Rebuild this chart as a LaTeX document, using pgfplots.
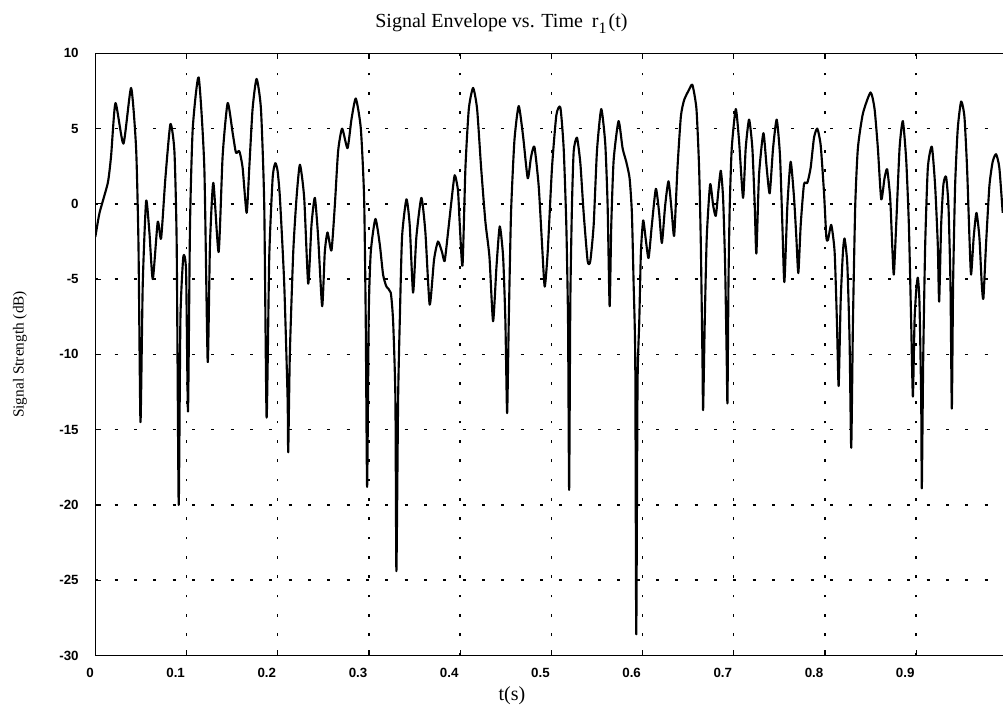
\documentclass[border=0pt]{standalone}
\usepackage{fontspec}
\setmainfont{Liberation Serif}
\setsansfont{Liberation Sans}
\usepackage{pgfplots}
\pgfplotsset{compat=1.18}
\pgfplotstableread{
x y
0.0000 -2.2
0.0046 -0.6
0.0137 1.4
0.0173 3.2
0.0221 6.7
0.0308 4.0
0.0392 7.7
0.0447 3.7
0.0473 -2.7
0.0495 -14.5
0.0520 -5.3
0.0557 0.2
0.0593 -1.9
0.0630 -5.0
0.0684 -1.2
0.0721 -2.3
0.0768 1.7
0.0823 5.3
0.0867 3.5
0.0892 -2.7
0.0914 -20.0
0.0933 -7.6
0.0965 -3.5
0.0995 -4.5
0.1016 -13.8
0.1038 -1.4
0.1068 5.0
0.1133 8.4
0.1195 2.4
0.1232 -10.5
0.1257 -2.7
0.1294 1.4
0.1352 -3.2
0.1396 3.2
0.1451 6.7
0.1506 4.7
0.1542 3.4
0.1579 3.5
0.1615 2.4
0.1659 -0.6
0.1688 2.4
0.1724 6.3
0.1768 8.3
0.1816 6.3
0.1852 -0.1
0.1878 -14.2
0.1907 -3.5
0.1944 1.7
0.1973 2.7
0.1998 2.2
0.2024 0.4
0.2071 -5.3
0.2108 -12.9
0.2115 -16.5
0.2133 -9.9
0.2170 -3.2
0.2206 0.4
0.2243 2.6
0.2290 0.4
0.2334 -5.3
0.2370 -1.4
0.2407 0.4
0.2443 -2.2
0.2487 -6.8
0.2516 -3.2
0.2546 -1.9
0.2589 -3.1
0.2626 -0.1
0.2662 3.5
0.2706 5.0
0.2765 3.7
0.2808 5.6
0.2856 7.0
0.2911 5.0
0.2947 0.4
0.2965 -7.8
0.2980 -18.8
0.2998 -7.3
0.3020 -3.2
0.3071 -1.0
0.3119 -2.7
0.3155 -4.7
0.3192 -5.5
0.3239 -5.9
0.3265 -7.8
0.3290 -12.9
0.3301 -24.4
0.3320 -12.9
0.3338 -7.8
0.3363 -2.2
0.3411 0.3
0.3447 -1.4
0.3484 -5.9
0.3520 -2.2
0.3575 0.4
0.3619 -1.9
0.3666 -6.7
0.3714 -3.7
0.3757 -2.5
0.3801 -3.2
0.3830 -3.8
0.3867 -1.9
0.3903 0.1
0.3940 1.9
0.3976 0.9
0.3996 -1.4
0.4026 -4.1
0.4058 2.4
0.4095 6.3
0.4142 7.7
0.4186 6.3
0.4230 2.4
0.4277 -1.2
0.4321 -3.5
0.4361 -7.8
0.4398 -4.2
0.4434 -1.5
0.4471 -3.5
0.4496 -7.8
0.4515 -13.9
0.4533 -7.8
0.4558 -0.6
0.4595 4.2
0.4642 6.5
0.4690 4.5
0.4741 1.7
0.4777 3.1
0.4814 3.8
0.4861 1.2
0.4898 -2.7
0.4927 -5.5
0.4960 -3.2
0.5007 2.4
0.5055 5.9
0.5099 6.4
0.5135 3.7
0.5164 -1.4
0.5183 -7.8
0.5195 -19.0
0.5208 -6.5
0.5226 -0.1
0.5245 3.5
0.5281 4.4
0.5318 2.7
0.5354 -0.6
0.5398 -3.8
0.5427 -3.8
0.5464 -1.4
0.5500 3.5
0.5547 6.3
0.5591 4.0
0.5617 -0.1
0.5639 -6.8
0.5657 -1.4
0.5683 2.9
0.5737 5.5
0.5781 3.7
0.5821 2.8
0.5858 1.7
0.5883 -0.6
0.5902 -5.3
0.5920 -10.4
0.5931 -28.6
0.5945 -12.0
0.5964 -7.8
0.5982 -3.2
0.6007 -1.1
0.6036 -2.4
0.6066 -3.6
0.6102 -1.4
0.6146 1.0
0.6182 -0.6
0.6212 -2.6
0.6248 -0.1
0.6285 1.5
0.6321 -0.6
0.6347 -2.1
0.6383 2.4
0.6420 5.8
0.6456 6.9
0.6511 7.6
0.6547 7.9
0.6591 6.3
0.6620 2.4
0.6639 -2.7
0.6657 -10.4
0.6664 -13.7
0.6682 -7.8
0.6704 -2.2
0.6741 1.3
0.6774 -0.1
0.6803 -0.8
0.6832 0.9
0.6858 2.2
0.6883 0.4
0.6905 -4.0
0.6923 -10.4
0.6931 -13.2
0.6942 -5.3
0.6956 -0.1
0.6978 3.7
0.7022 6.3
0.7058 4.2
0.7102 0.4
0.7131 3.7
0.7168 5.6
0.7204 3.7
0.7230 -0.1
0.7248 -3.3
0.7277 1.9
0.7325 4.7
0.7361 2.4
0.7394 0.7
0.7431 3.7
0.7471 5.6
0.7507 3.2
0.7533 -1.4
0.7555 -5.2
0.7588 -0.1
0.7624 2.8
0.7661 0.4
0.7686 -2.2
0.7708 -4.6
0.7734 -1.4
0.7770 1.3
0.7807 1.4
0.7843 2.4
0.7880 4.4
0.7916 5.0
0.7953 3.9
0.7989 0.8
0.8015 -2.2
0.8033 -2.4
0.8069 -1.4
0.8106 -3.2
0.8131 -7.8
0.8150 -12.1
0.8172 -6.5
0.8197 -3.2
0.8215 -2.3
0.8245 -4.0
0.8270 -9.1
0.8288 -16.2
0.8307 -7.8
0.8332 -0.1
0.8361 3.7
0.8416 6.0
0.8500 7.4
0.8544 6.3
0.8580 3.7
0.8617 0.3
0.8653 1.7
0.8682 2.3
0.8715 0.4
0.8737 -2.7
0.8755 -4.7
0.8781 -1.4
0.8818 3.7
0.8854 5.5
0.8891 2.9
0.8920 -1.4
0.8945 -7.8
0.8964 -12.8
0.8982 -7.8
0.9000 -5.8
0.9018 -4.9
0.9036 -6.5
0.9055 -12.9
0.9062 -18.9
0.9077 -10.4
0.9099 -2.7
0.9128 2.4
0.9172 3.8
0.9208 1.2
0.9237 -2.7
0.9252 -6.5
0.9274 -1.4
0.9299 1.3
0.9328 1.8
0.9354 -0.1
0.9376 -5.3
0.9391 -13.6
0.9405 -5.3
0.9427 1.2
0.9456 5.0
0.9493 6.8
0.9529 5.8
0.9558 2.4
0.9584 -2.2
0.9602 -4.7
0.9631 -2.2
0.9661 -0.6
0.9693 -2.2
0.9719 -5.3
0.9737 -6.3
0.9766 -2.7
0.9803 1.2
0.9839 2.8
0.9876 3.3
0.9912 2.4
0.9949 -0.6
}\envelope
\begin{document}
\begin{tikzpicture}
\begin{axis}[
  scale only axis, width=680.8pt, height=451.6pt,
  xmin=0, xmax=0.9953, ymin=-30, ymax=10,
  axis x line=box, axis y line=left,
  axis line style={-, line width=1.1pt},
  xtick={0,0.1,0.2,0.3,0.4,0.5,0.6,0.7,0.8,0.9},
  xticklabels={0,0.1,0.2,0.3,0.4,0.5,0.6,0.7,0.8,0.9},
  ytick={-30,-25,-20,-15,-10,-5,0,5,10},
  yticklabels={-30,-25,-20,-15,-10,-5,0,5,10},
  tick label style={font=\sffamily\bfseries\fontsize{10}{12}\selectfont},
  xticklabel style={anchor=north east, yshift=-6pt, xshift=2.3pt},
  yticklabel style={xshift=-9pt},
  grid=major,
  major grid style={black, line width=1.1pt, dash pattern=on 2.2pt off 12.3pt},
  tick align=inside, major tick length=4pt,
  tick style={black, line width=0.9pt},
]
\addplot[black, line width=1.6pt, line join=round, smooth, tension=0.35] table[x=x,y=y] {\envelope};
\end{axis}
\node[anchor=base west, inner sep=0, font=\fontsize{15}{17}\selectfont]
  at ([xshift=209.8pt, yshift=19.7pt]current axis.north west)
  {Signal Envelope vs. Time\hspace{0.45em}r\raisebox{-5pt}{\fontsize{12}{13}\selectfont 1}\hspace{0.1em}(t)};
\node[anchor=base, inner sep=0, font=\fontsize{15}{17}\selectfont]
  at ([xshift=312.5pt, yshift=-33.4pt]current axis.south west) {t(s)};
\node[rotate=90, inner sep=0, font=\fontsize{11.5}{13}\selectfont]
  at ([xshift=-56.5pt]current axis.west) {Signal Strength (dB)};
\pgfresetboundingbox
\path[use as bounding box] ([xshift=-71.5pt,yshift=-39.4pt]current axis.south west) rectangle ++(752.25pt,531pt);
\end{tikzpicture}
\end{document}
